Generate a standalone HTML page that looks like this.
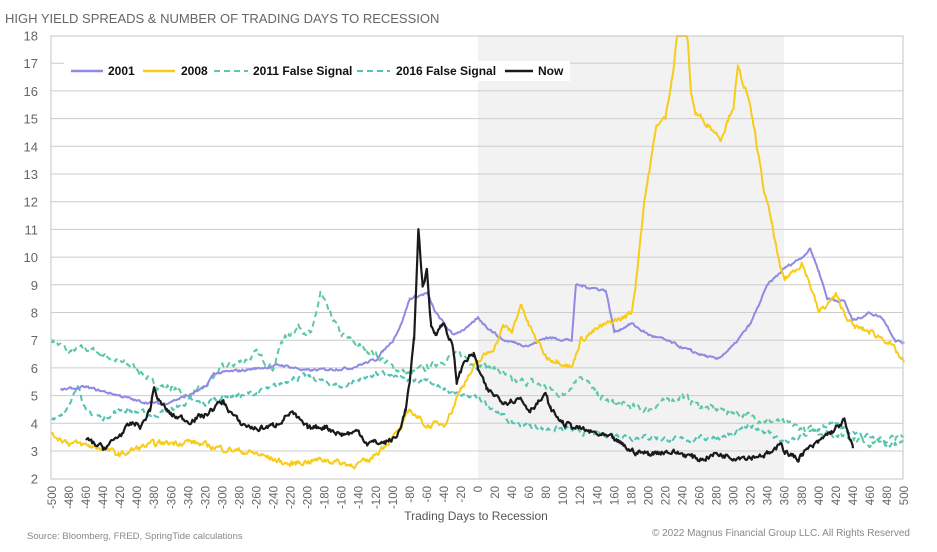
<!DOCTYPE html>
<html><head><meta charset="utf-8"><style>
body{margin:0;background:#fff;width:937px;height:547px;overflow:hidden;font-family:"Liberation Sans",sans-serif}
</style></head><body>
<svg id="s" width="937" height="547" xmlns="http://www.w3.org/2000/svg" font-family="Liberation Sans, sans-serif">
<text x="5" y="23" font-size="13" fill="#666">HIGH YIELD SPREADS &amp; NUMBER OF TRADING DAYS TO RECESSION</text>
<rect x="478" y="36" width="306" height="443" fill="#f2f2f2"/>
<g id="grid"></g>
<g id="series"></g>
<rect x="51" y="36" width="852" height="443" fill="none" stroke="#c4c4c4" stroke-width="1"/>
<g font-size="12" font-weight="bold" fill="#111">
<rect x="64" y="61" width="506" height="20" fill="#fff"/>
<line x1="71" y1="71" x2="103" y2="71" stroke="#8f8ae2" stroke-width="2.5"/><text x="108" y="75">2001</text>
<line x1="143" y1="71" x2="175" y2="71" stroke="#f7cc1a" stroke-width="2.5"/><text x="181" y="75">2008</text>
<line x1="214" y1="71" x2="248" y2="71" stroke="#5ec99e" stroke-width="2" stroke-dasharray="6,4"/><text x="253" y="75">2011 False Signal</text>
<line x1="357" y1="71" x2="390" y2="71" stroke="#52c2b4" stroke-width="2" stroke-dasharray="6,4"/><text x="396" y="75">2016 False Signal</text>
<line x1="505" y1="71" x2="533" y2="71" stroke="#1a1a1a" stroke-width="2.5"/><text x="538" y="75">Now</text>
</g>
<g id="ylab" font-size="13" fill="#666" text-anchor="end"></g>
<g id="xlab" font-size="11.5" fill="#666" font-family="Liberation Sans Narrow, Liberation Sans, sans-serif"></g>
<text x="476" y="520" font-size="12" fill="#555" text-anchor="middle">Trading Days to Recession</text>
<text x="27" y="539" font-size="9.5" fill="#888">Source: Bloomberg, FRED, SpringTide calculations</text>
<text x="910" y="536" font-size="10" fill="#888" text-anchor="end">© 2022 Magnus Financial Group LLC. All Rights Reserved</text>
</svg>
<script>
var NS="http://www.w3.org/2000/svg";
function X(d){return 478+d*0.852}
function Y(v){return 478.7-(v-2)*27.7}
function el(t,a,p){var e=document.createElementNS(NS,t);for(var k in a)e.setAttribute(k,a[k]);document.getElementById(p).appendChild(e);return e}
for(var v=3;v<=17;v++)el("line",{x1:51,x2:903,y1:Y(v),y2:Y(v),stroke:"#ccc","stroke-width":1},"grid");
for(var v=2;v<=18;v++){var t=el("text",{x:38,y:Y(v)+5},"ylab");t.textContent=v;}
for(var d=-500;d<=500;d+=20){var t=el("text",{x:0,y:0,"text-anchor":"end",transform:"translate("+(X(d)+4)+",486) rotate(-90)"},"xlab");t.textContent=d;}
var seed=7;function rnd(){seed=(seed*16807)%2147483647;return seed/2147483647-0.5}
function draw(pts,col,w,dash,noise){
 var out=[],n=0;
 for(var i=0;i<pts.length-1;i++){var a=pts[i],b=pts[i+1];
  for(var d=a[0];d<b[0];d+=1.2){var f=(d-a[0])/(b[0]-a[0]);n=n*0.6+rnd()*noise;var v=a[1]+(b[1]-a[1])*f+n;out.push(X(d).toFixed(1)+","+Math.max(Y(v),36).toFixed(1));}}
 var l=pts[pts.length-1];out.push(X(l[0]).toFixed(1)+","+Y(l[1]).toFixed(1));
 var a={points:out.join(" "),fill:"none",stroke:col,"stroke-width":w,"stroke-linejoin":"round"};if(dash)a["stroke-dasharray"]=dash;
 el("polyline",a,"series");}
var s2011=[[-500,7],[-480,6.6],[-460,6.7],[-440,6.5],[-420,6.2],[-400,6],[-380,5.4],[-360,5.3],[-340,5],[-320,5.3],[-300,6],[-280,6.2],[-260,6.5],[-240,6],[-230,7],[-210,7.5],[-195,7.2],[-185,8.7],[-175,8],[-160,7.2],[-140,6.8],[-120,6.5],[-100,6],[-80,5.8],[-60,6],[-40,6.3],[-20,6.5],[0,6.1],[20,6],[40,5.5],[60,5.5],[80,5.3],[100,5],[120,5.8],[140,5],[160,4.7],[180,4.6],[200,4.5],[220,4.8],[240,5],[260,4.6],[280,4.5],[300,4.4],[340,4.1],[360,4],[380,3.8],[400,3.7],[420,3.6],[440,3.5],[460,3.3],[480,3.4],[500,3.5]];
var s2016=[[-500,4.2],[-480,4.5],[-470,5.5],[-460,4.4],[-440,4.2],[-420,4.5],[-400,4.4],[-380,4.3],[-360,4.5],[-340,4.8],[-320,4.7],[-300,5],[-280,5],[-260,5.1],[-240,5.3],[-220,5.6],[-200,5.7],[-180,5.5],[-160,5.3],[-140,5.6],[-120,5.8],[-100,5.7],[-80,5.5],[-60,5.6],[-40,5.2],[-20,5],[0,4.9],[20,4.5],[40,4],[60,3.9],[80,3.8],[100,3.8],[120,3.7],[140,3.6],[160,3.6],[180,3.5],[200,3.5],[240,3.4],[280,3.5],[300,3.6],[320,3.9],[340,3.7],[360,3.3],[380,3.5],[400,3.8],[420,4],[440,3.6],[460,3.5],[480,3.2],[500,3.4]];
var s2001=[[-490,5.2],[-460,5.3],[-420,5],[-400,4.8],[-370,4.7],[-340,5],[-320,5.3],[-310,5.8],[-280,5.9],[-230,6.1],[-200,5.9],[-150,6],[-120,6.3],[-100,7],[-90,7.6],[-80,8.5],[-60,8.7],[-50,8],[-30,7.2],[-10,7.5],[0,7.8],[10,7.5],[30,7],[60,6.8],[80,7.1],[110,7],[115,9],[150,8.8],[160,7.3],[180,7.6],[200,7.2],[220,7],[250,6.6],[280,6.3],[300,6.8],[320,7.6],[340,9],[360,9.6],[380,10],[390,10.3],[400,9.5],[410,8.5],[430,8.4],[440,7.7],[460,8],[475,7.8],[490,7],[500,6.9]];
var s2008=[[-500,3.6],[-480,3.3],[-440,3.1],[-420,2.85],[-400,3.1],[-380,3.25],[-340,3.35],[-320,3.2],[-300,3.1],[-260,2.9],[-220,2.5],[-210,2.6],[-180,2.7],[-150,2.5],[-130,2.6],[-110,3.2],[-90,3.8],[-80,4.5],[-60,3.9],[-40,4],[-30,4.5],[-20,5.3],[0,6.2],[20,6.8],[30,7.5],[40,7.3],[50,8.3],[60,7.5],[80,6.4],[100,6.2],[110,6],[120,7],[140,7.4],[160,7.7],[170,7.8],[180,8],[185,9],[195,12],[210,14.8],[220,15],[230,17],[235,18.5],[245,18.3],[250,16],[255,15.2],[270,14.8],[285,14.3],[300,15.5],[305,16.8],[315,16],[325,14.5],[335,12.5],[345,11.2],[355,9.5],[360,9.2],[380,9.8],[390,9],[400,8],[420,8.6],[430,8],[440,7.5],[460,7.3],[480,7],[500,6.2]];
var sNow=[[-460,3.4],[-440,3.1],[-430,3.3],[-420,3.6],[-405,4],[-395,3.9],[-385,4.5],[-380,5.3],[-375,4.8],[-360,4.3],[-340,4.1],[-320,4.3],[-300,4.8],[-280,4],[-260,3.8],[-240,3.9],[-220,4.4],[-200,3.8],[-180,3.9],[-160,3.6],[-140,3.7],[-130,3.3],[-110,3.3],[-95,3.5],[-85,4.5],[-80,5.5],[-75,7],[-70,11],[-65,9],[-60,9.5],[-55,7.5],[-50,7.3],[-40,7.6],[-30,6.8],[-25,5.5],[-15,6.3],[-5,6.5],[0,6],[10,5.2],[20,5],[30,4.8],[50,4.9],[60,4.5],[80,5],[85,4.5],[100,4],[120,3.8],[140,3.6],[160,3.4],[180,3],[200,2.9],[220,3],[240,2.9],[260,2.7],[280,2.9],[300,2.8],[320,2.8],[340,2.9],[350,3],[355,3.4],[360,3],[375,2.7],[380,2.9],[400,3.3],[410,3.6],[420,3.8],[430,4.1],[435,3.5],[440,3.1]];
draw(s2011,"#5ec99e",2,"6,4",0.2);
draw(s2016,"#52c2b4",2,"6,4",0.16);
draw(s2001,"#8f8ae2",2,null,0.08);
draw(s2008,"#f7cc1a",2,null,0.18);
draw(sNow,"#1a1a1a",2.2,null,0.18);
</script>
</body></html>
